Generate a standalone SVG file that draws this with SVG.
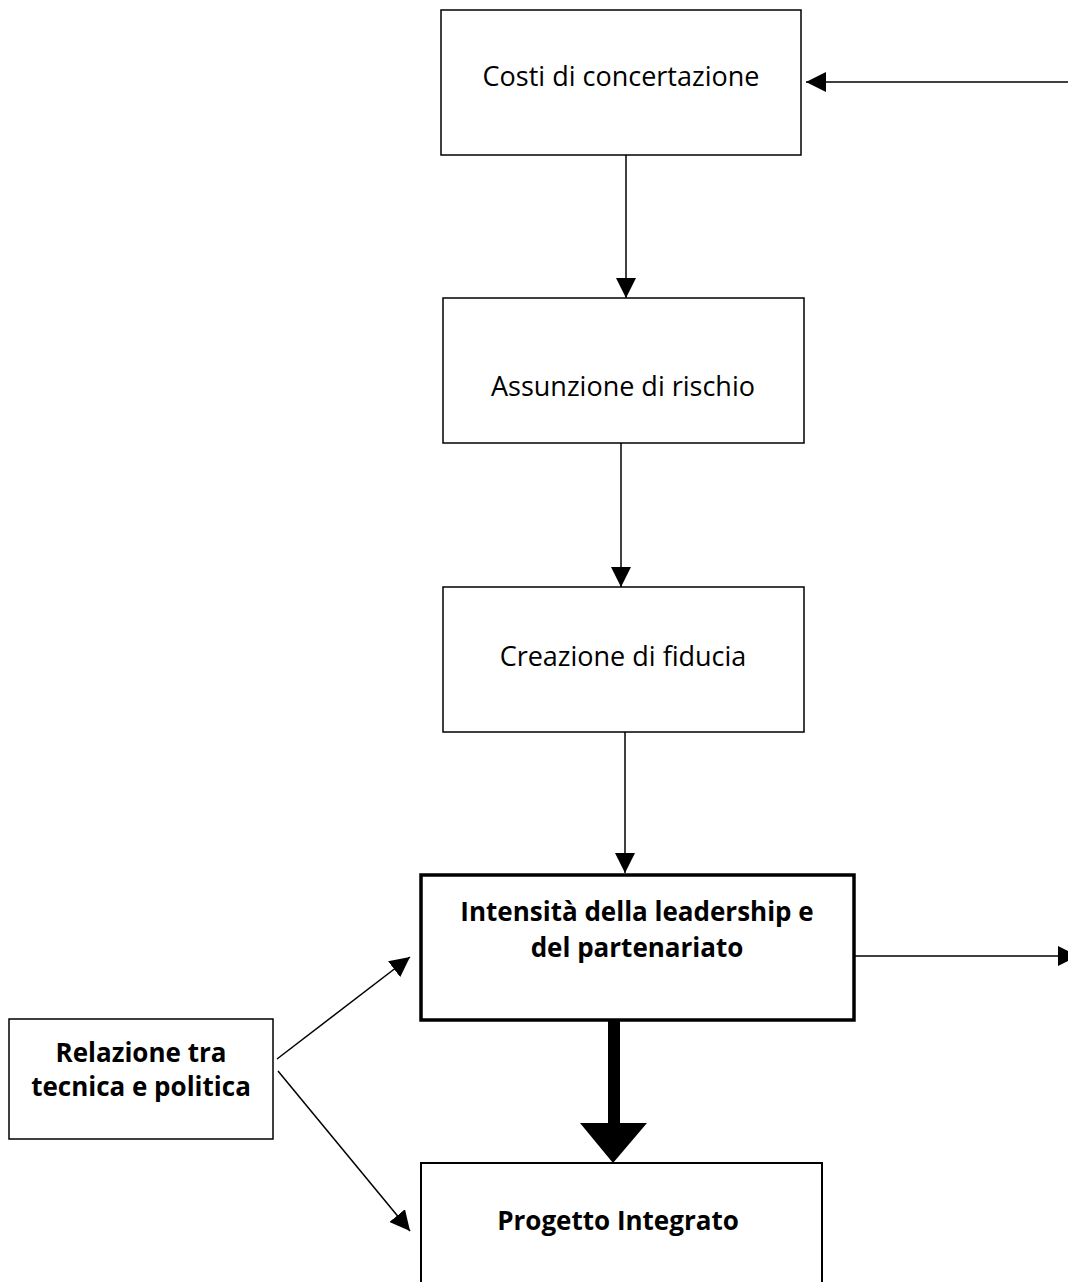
<svg xmlns="http://www.w3.org/2000/svg" width="1068" height="1282" viewBox="0 0 1068 1282">
  <style>
    .box { fill: #fff; stroke: #000; stroke-width: 1.5; }
    .lbl { font-family: "Open Sans", "Liberation Sans", sans-serif; font-size: 27px; fill: #000; text-anchor: middle; }
    .b { font-weight: bold; font-size: 26px; }
    .ln { stroke: #000; stroke-width: 1.5; fill: none; }
  </style>
  <defs>
    <marker id="ah" viewBox="0 0 10 10" refX="10" refY="5" markerUnits="userSpaceOnUse" markerWidth="20" markerHeight="20" orient="auto">
      <path d="M0,0 L10,5 L0,10 Z" fill="#000"/>
    </marker>
  </defs>
  <rect width="1068" height="1282" fill="#fff"/>

  <g id="connectors">
    <line class="ln" x1="1068" y1="82" x2="806" y2="82" marker-end="url(#ah)"/>
    <line class="ln" x1="626" y1="155" x2="626" y2="298" marker-end="url(#ah)"/>
    <line class="ln" x1="621" y1="443" x2="621" y2="587" marker-end="url(#ah)"/>
    <line class="ln" x1="625" y1="732" x2="625" y2="873" marker-end="url(#ah)"/>
    <line class="ln" x1="854" y1="956" x2="1078" y2="956" marker-end="url(#ah)"/>
    <line class="ln" x1="277" y1="1059" x2="410" y2="957" marker-end="url(#ah)"/>
    <line class="ln" x1="278" y1="1071" x2="410" y2="1231" marker-end="url(#ah)"/>
    <!-- heavy arrow into the integrated project -->
    <rect x="608" y="1020" width="12" height="104" fill="#000"/>
    <path d="M580,1123 L647,1123 L613,1163 Z" fill="#000"/>
  </g>

  <g id="costi">
    <rect class="box" x="441" y="10" width="360" height="145"/>
    <text class="lbl" x="621" y="86">Costi di concertazione</text>
  </g>
  <g id="assunzione">
    <rect class="box" x="443" y="298" width="361" height="145"/>
    <text class="lbl" x="623" y="396">Assunzione di rischio</text>
  </g>
  <g id="creazione">
    <rect class="box" x="443" y="587" width="361" height="145"/>
    <text class="lbl" x="623" y="666">Creazione di fiducia</text>
  </g>
  <g id="intensita">
    <rect class="box" x="421" y="875" width="433" height="145" style="stroke-width:3.5"/>
    <text class="lbl b" x="637" y="921">Intensità della leadership e</text>
    <text class="lbl b" x="637" y="957">del partenariato</text>
  </g>
  <g id="relazione">
    <rect class="box" x="9" y="1019" width="264" height="120"/>
    <text class="lbl b" x="141" y="1062">Relazione tra</text>
    <text class="lbl b" x="141" y="1096">tecnica e politica</text>
  </g>
  <g id="progetto">
    <rect class="box" x="421" y="1163" width="401" height="130" style="stroke-width:2"/>
    <text class="lbl b" x="618" y="1230">Progetto Integrato</text>
  </g>
</svg>
